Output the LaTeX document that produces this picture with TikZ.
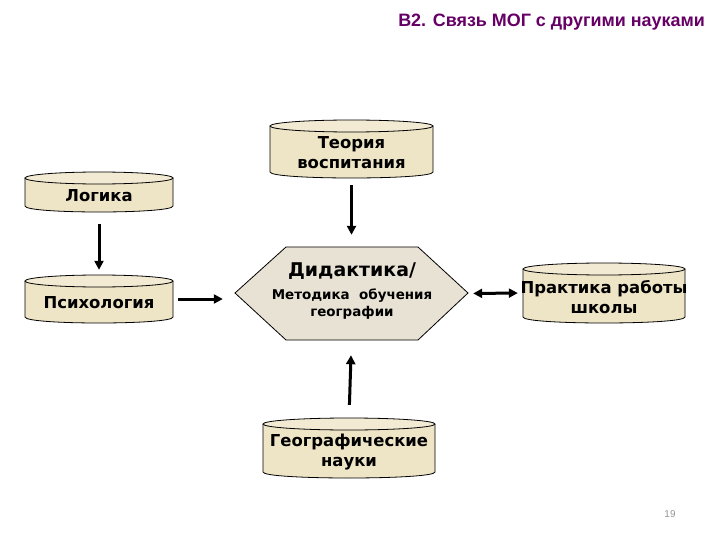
\documentclass[tikz,border=0pt]{standalone}
\usepackage{fontspec}
\setmainfont{DejaVu Sans}
\newfontfamily\titlefont{Liberation Sans}
\usetikzlibrary{arrows.meta,calc}
\definecolor{cylfillc}{RGB}{238,228,198}
\definecolor{cyltopc}{RGB}{242,234,210}
\definecolor{hexfillc}{RGB}{232,226,212}
\definecolor{titlec}{RGB}{102,0,102}
\definecolor{pagec}{RGB}{150,150,150}
\tikzset{
  cylbody/.style={fill=cylfillc},
  cylline/.style={draw=black, line width=0.8bp},
  cyltop/.style={fill=cyltopc, draw=black, line width=0.8bp},
  cyltext/.style={inner sep=0pt, align=center, font=\fontsize{16.5}{20}\selectfont\bfseries},
  boxnode/.style={inner sep=0pt, draw=none},
  arr/.style={line width=3bp, -{Triangle[length=9bp,width=9bp]}},
  darr/.style={line width=3bp, {Triangle[length=9bp,width=9bp]}-{Triangle[length=9bp,width=9bp]}},
}
\newcommand{\mycyl}[6]{%
  \fill[cylbody] (#2,#4+6) -- (#2,#5-6) .. controls (#2,#5+2) and (#3,#5+2) .. (#3,#5-6) -- (#3,#4+6) -- cycle;
  \draw[cylline] (#2,#4+6) -- (#2,#5-6) .. controls (#2,#5+2) and (#3,#5+2) .. (#3,#5-6) -- (#3,#4+6);
  \path[cyltop] ({(#2+#3)/2},#4+6) ellipse [x radius={(#3-#2)/2}, y radius=6];
  \node[boxnode, minimum width={(#3-#2)*1bp}, minimum height={(#5-#4)*1bp}] (#1) at ({(#2+#3)/2},{(#4+#5)/2}) {};
  \node[cyltext] (#1txt) at ({(#2+#3)/2},{(#4+#5)/2+4}) {#6};
}
\begin{document}
\begin{tikzpicture}[x=1bp,y=-1bp]
\useasboundingbox (0,0) rectangle (720,540);
\fill[white] (0,0) rectangle (720,540);

% title
\node[anchor=east, inner sep=0pt, text=titlec, font=\titlefont\fontsize{18}{20}\selectfont\bfseries] (title) at (705,22) {В2. Связь МОГ с другими науками};

% cylinders
\mycyl{teoria}{270}{433}{120}{178}{Теория\\воспитания}
\mycyl{logika}{25}{173}{172}{212}{Логика}
\mycyl{psych}{25}{173}{275}{323}{Психология}
\mycyl{prak}{523}{685}{263}{323}{Практика работы\\школы}
\mycyl{geo}{263}{435}{418}{478}{Географические\\науки}

% hexagon
\filldraw[fill=hexfillc, draw=black, line width=0.8bp]
  (235,293) -- (286,247) -- (418,247) -- (468,293) -- (418,340) -- (286,340) -- cycle;
\node[boxnode, minimum width=233bp, minimum height=93bp] (hex) at (351.5,293.5) {};
\node[inner sep=0pt, font=\fontsize{19}{22}\selectfont\bfseries] (hextitle) at (352,271) {Дидактика/};
\node[inner sep=0pt, align=center, font=\fontsize{13.5}{16.5}\selectfont\bfseries] (hexsub) at (352,304) {Методика\ \ обучения\\географии};

% connectors
\draw[arr, shorten <=12bp, shorten >=5bp] (logika.south) -- (psych.north);
\draw[arr, shorten <=7bp, shorten >=12bp] (teoria.south) -- (hex.north);
\draw[arr, shorten <=5bp, shorten >=12bp] (psych.east) -- (psych.east -| hex.west);
\draw[darr, shorten <=5bp, shorten >=5bp] (hex.east) -- (prak.west);
\draw[arr, shorten <=13bp, shorten >=15bp] (geo.north) -- (hex.south);

% page number
\node[inner sep=0pt, text=pagec, font=\titlefont\fontsize{10}{12}\selectfont] (pg) at (670,514) {19};
\end{tikzpicture}
\end{document}
